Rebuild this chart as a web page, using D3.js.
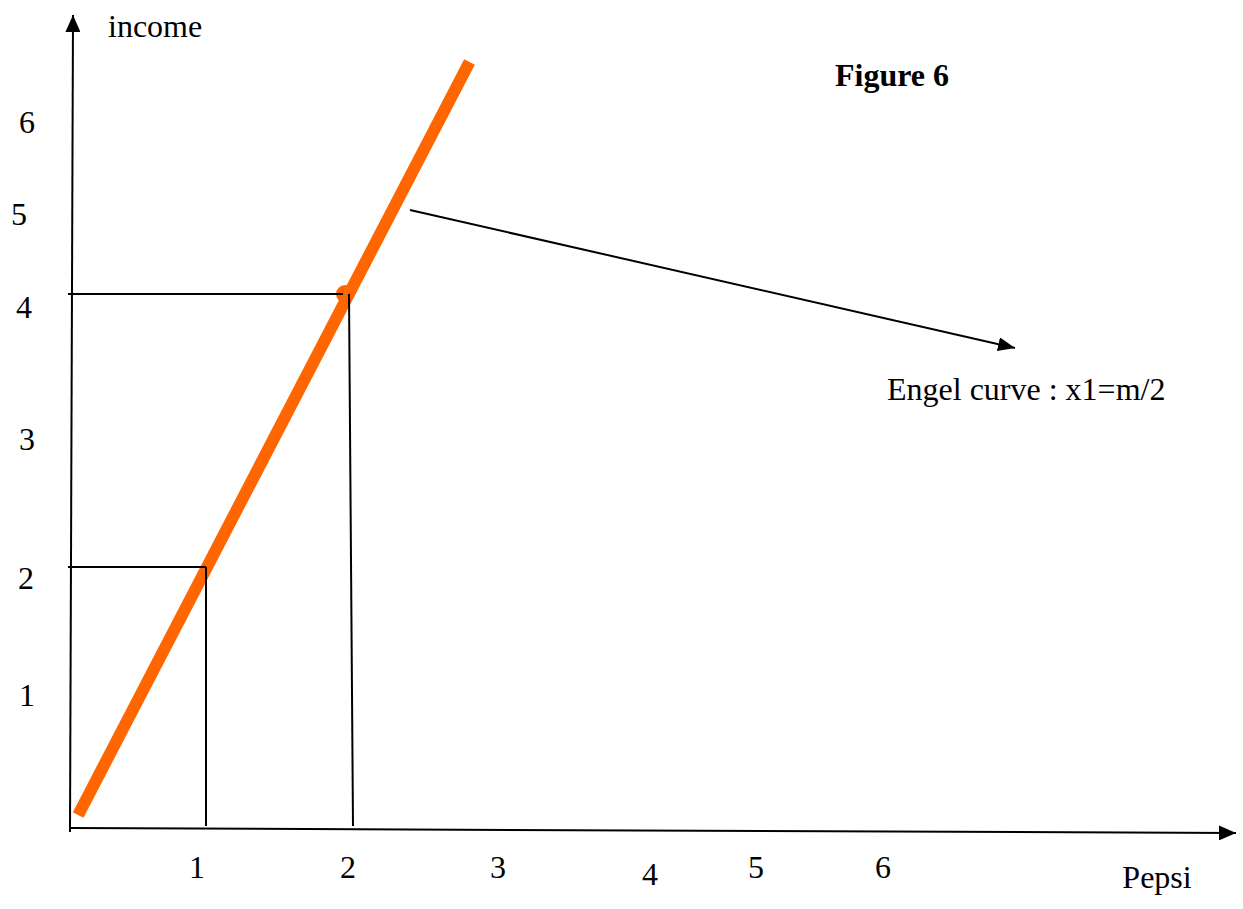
<!DOCTYPE html>
<html>
<head>
<meta charset="utf-8">
<script src="https://cdn.jsdelivr.net/npm/d3@7"></script>
<style>
  html, body { margin: 0; padding: 0; background: #fff; }
  svg { display: block; }
  text { font-family: "Liberation Serif", "Times New Roman", serif; fill: #000; }
</style>
</head>
<body>
<svg id="chart" width="1243" height="909"></svg>
<script>
// ---------- data ----------
const engelCurve = [[0.06, 0.1], [2.83, 5.7]];   // x1 = m/2  (Pepsi, income)
const highlightPoint = [2, 4];
const guidePoints = [[1, 2], [2, 4]];             // dropped guide lines
const xTickLabels = ["1", "2", "3", "4", "5", "6"];
const yTickLabels = ["1", "2", "3", "4", "5", "6"];
const xTitle = "Pepsi";
const yTitle = "income";
const figTitle = "Figure 6";
const curveLabel = "Engel curve : x1=m/2";

// ---------- layout ----------
const xTickPos = [[197, 878], [348, 878], [498, 878], [650, 885], [756, 878], [883, 878]];
const yTickPos = [[27, 706], [26, 589], [27, 450], [24, 318], [19, 225], [27, 133]];

const svg = d3.select("#chart");
const orange = "#FF6600";

// scales (hand-drawn figure: piecewise linear)
const x = d3.scaleLinear().domain([0, 1, 2]).range([70, 206, 350]);
const y = d3.scaleLinear().domain([0, 2, 4]).range([828, 567, 294]);

// arrow markers
const defs = svg.append("defs");
function marker(id, len, half) {
  defs.append("marker")
    .attr("id", id)
    .attr("viewBox", `0 0 ${len} ${half * 2}`)
    .attr("refX", len).attr("refY", half)
    .attr("markerWidth", len).attr("markerHeight", half * 2)
    .attr("markerUnits", "userSpaceOnUse")
    .attr("orient", "auto")
    .append("path")
    .attr("d", `M0,0 L${len},${half} L0,${half * 2} Z`)
    .attr("fill", "#000");
}
marker("arrowAxis", 17, 7.5);
marker("arrowNote", 17, 7);

// axes
svg.append("line")
  .attr("x1", x(0)).attr("y1", y(0) + 4)
  .attr("x2", x(0) + 3).attr("y2", 15)
  .attr("stroke", "#000").attr("stroke-width", 2)
  .attr("marker-end", "url(#arrowAxis)");
svg.append("line")
  .attr("x1", x(0)).attr("y1", y(0))
  .attr("x2", 1236).attr("y2", y(0) + 5)
  .attr("stroke", "#000").attr("stroke-width", 2)
  .attr("marker-end", "url(#arrowAxis)");

// Engel curve
svg.append("path")
  .datum(engelCurve)
  .attr("d", d3.line().x(d => x(d[0])).y(d => y(d[1])))
  .attr("fill", "none")
  .attr("stroke", orange)
  .attr("stroke-width", 12)
  .attr("stroke-linecap", "butt");

svg.append("circle")
  .attr("cx", x(highlightPoint[0]) - 5)
  .attr("cy", y(highlightPoint[1]))
  .attr("r", 9)
  .attr("fill", orange);

// guide lines (drawn over the curve, as in the reference)
guidePoints.forEach(([px, py]) => {
  svg.append("line")
    .attr("x1", x(0) - 2).attr("y1", y(py))
    .attr("x2", x(px) - (px === 2 ? 7 : 0)).attr("y2", y(py))
    .attr("stroke", "#000").attr("stroke-width", 2);
  svg.append("line")
    .attr("x1", x(px) - (px === 2 ? 1 : 0)).attr("y1", y(py))
    .attr("x2", x(px) + (px === 2 ? 3 : 0)).attr("y2", y(0) - 2)
    .attr("stroke", "#000").attr("stroke-width", 2);
});

// annotation arrow
svg.append("line")
  .attr("x1", 410).attr("y1", 210)
  .attr("x2", 1015).attr("y2", 348)
  .attr("stroke", "#000").attr("stroke-width", 2)
  .attr("marker-end", "url(#arrowNote)");

// tick labels
svg.selectAll("text.xt").data(xTickLabels).enter().append("text")
  .attr("class", "xt")
  .attr("x", (d, i) => xTickPos[i][0])
  .attr("y", (d, i) => xTickPos[i][1])
  .attr("text-anchor", "middle")
  .attr("font-size", 32)
  .text(d => d);

svg.selectAll("text.yt").data(yTickLabels).enter().append("text")
  .attr("class", "yt")
  .attr("x", (d, i) => yTickPos[i][0])
  .attr("y", (d, i) => yTickPos[i][1])
  .attr("text-anchor", "middle")
  .attr("font-size", 32)
  .text(d => d);

// titles
svg.append("text").attr("x", 108).attr("y", 37).attr("font-size", 32).text(yTitle);
svg.append("text").attr("x", 1157).attr("y", 888).attr("text-anchor", "middle").attr("font-size", 32).text(xTitle);
svg.append("text").attr("x", 835).attr("y", 86).attr("font-size", 32).attr("font-weight", "bold").text(figTitle);
svg.append("text").attr("x", 887).attr("y", 400).attr("font-size", 32).text(curveLabel);
</script>
</body>
</html>
